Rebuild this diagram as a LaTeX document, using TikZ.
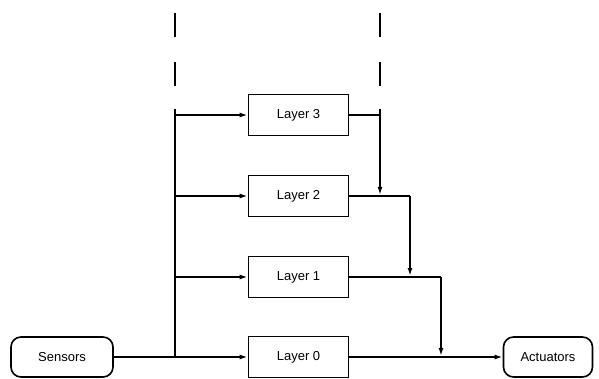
\documentclass[tikz,border=0pt]{standalone}
\usepackage{fontspec}
\setmainfont{Liberation Sans}
\usetikzlibrary{arrows.meta}
\begin{document}
\begin{tikzpicture}[x=1pt,y=-1pt,
  line width=1.6pt,
  layerbox/.style={draw, rectangle, minimum width=100pt, minimum height=41pt, inner sep=0pt, font=\fontsize{13}{15}\selectfont},
  iobox/.style={draw, rectangle, rounded corners=10pt, minimum height=40pt, inner sep=0pt, font=\fontsize{13}{15}\selectfont},
  arr/.style={-{Latex[length=8pt,width=5pt]}},
  dashline/.style={dash pattern=on 24pt off 25pt}]
\useasboundingbox (0,0) rectangle (599,379);
\node[layerbox] (L3) at (298.5,115) {Layer 3};
\node[layerbox] (L2) at (298.5,196) {Layer 2};
\node[layerbox] (L1) at (298.5,277) {Layer 1};
\node[layerbox] (L0) at (298.5,357) {Layer 0};
\node[iobox, minimum width=102pt] (S) at (62,357) {Sensors};
\node[iobox, minimum width=89pt] (A) at (548,357) {Actuators};
% coordinates
\coordinate (bt) at (175,109);
\coordinate (btop) at (175,13);
\coordinate (b0) at (175,357);
\coordinate (rt) at (380,109);
\coordinate (rtop) at (380,13);
% dashed tops
\draw[dashline] (btop) -- (bt);
\draw[dashline] (rtop) -- (rt);
% input bus
\draw (bt) -- (b0);
\draw (S.east) -- (b0);
\draw[arr] (b0) -- (L0.west);
\draw[arr] (175,277) coordinate (b1) -- (L1.west);
\draw[arr] (175,196) coordinate (b2) -- (L2.west);
\draw[arr] (175,115) coordinate (b3) -- (L3.west);
% outputs
\coordinate (o3) at (380,115);
\coordinate (o2) at (410,196);
\coordinate (o1) at (441,277);
\draw (L3.east) -- (o3);
\draw (rt) -- (o3);
\draw[arr] (o3) -- (380,195);
\draw (L2.east) -- (o2);
\draw[arr] (o2) -- (410,276);
\draw (L1.east) -- (o1);
\draw[arr] (o1) -- (441,356);
\draw[arr] (L0.east) -- (A.west);
\end{tikzpicture}
\end{document}
